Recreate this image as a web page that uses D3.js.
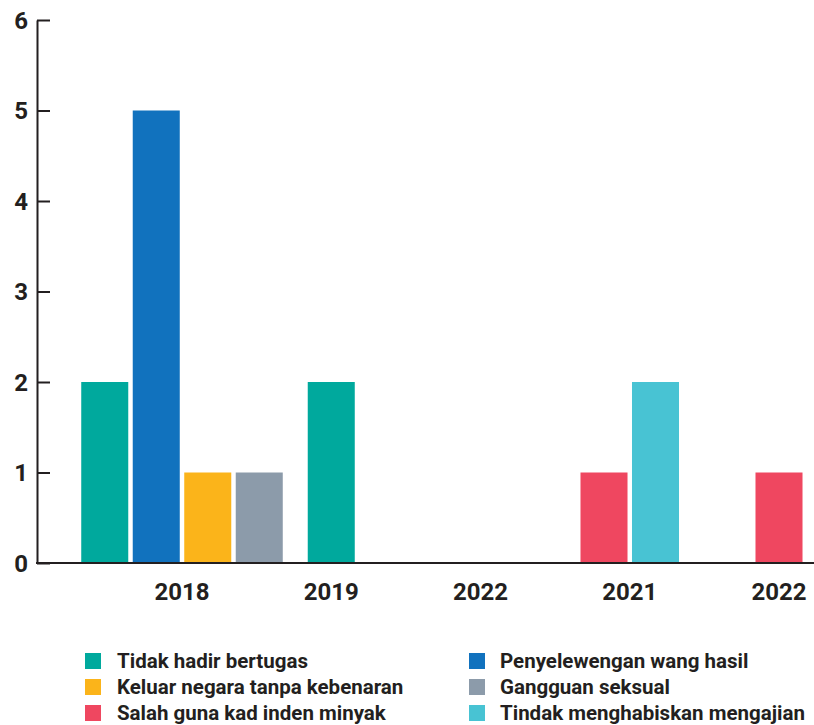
<!DOCTYPE html>
<html>
<head>
<meta charset="utf-8">
<script src="https://cdn.jsdelivr.net/npm/d3@7"></script>
<style>
  body { margin: 0; background: #fff; }
  svg text { font-family: Roboto, "Open Sans", sans-serif; font-weight: 700; fill: #231f20; }
</style>
</head>
<body>
<div id="chart"></div>
<script>
// categories on the x axis (the source really repeats 2022)
const categories = ['2018', '2019', '2022', '2021', '2022'];

const seriesNames = [
    'Tidak hadir bertugas',
    'Penyelewengan wang hasil',
    'Keluar negara tanpa kebenaran',
    'Gangguan seksual',
    'Salah guna kad inden minyak',
    'Tindak menghabiskan mengajian'
];
const seriesColors = ['#00a99d', '#1172be', '#fbb41a', '#8c9baa', '#ef4760', '#48c3d3'];

// values per series, one per category
const tidakHadir    = [2, 2, 0, 0, 0];
const penyelewengan = [5, 0, 0, 0, 0];
const keluarNegara  = [1, 0, 0, 0, 0];
const gangguan      = [1, 0, 0, 0, 0];
const salahGuna     = [0, 0, 0, 1, 1];
const tindak        = [0, 0, 0, 2, 0];
const seriesValues = [tidakHadir, penyelewengan, keluarNegara, gangguan, salahGuna, tindak];

const yTicks = [0, 1, 2, 3, 4, 5, 6];

const W = 814, H = 725;
const axisX = 37, yTop = 20, yBase = 563;
const pitch = 51.5;   // one bar + the gap after it

let svg = d3.select('#chart').append('svg')
    .attr('width', W)
    .attr('height', H);

let y = d3.scaleLinear()
    .domain([0, 6])
    .range([yBase, yTop]);

let x = d3.scalePoint()
    .domain(d3.range(categories.length))
    .range([182, 779]);

// bars: only the non-zero series of a year get a slot, centered on the year
categories.forEach((cat, i) => {
    let bars = seriesValues
        .map((vals, s) => ({ s: s, value: vals[i] }))
        .filter(d => d.value > 0);
    if (!bars.length) return;
    let n = bars.length;
    let inner = d3.scaleBand()
        .domain(d3.range(n))
        .range([x(i) - n * pitch / 2, x(i) + n * pitch / 2])
        .paddingInner(0.087)
        .paddingOuter(0.0435);
    svg.append('g').selectAll('rect')
        .data(bars)
        .join('rect')
        .attr('x', (d, j) => inner(j))
        .attr('y', d => y(d.value))
        .attr('width', inner.bandwidth())
        .attr('height', d => y(0) - y(d.value))
        .attr('fill', d => seriesColors[d.s]);
});

// y axis
let yAxis = d3.axisRight(y)
    .tickValues(yTicks)
    .tickFormat(d3.format('d'))
    .tickSize(13)
    .tickSizeOuter(0);
svg.append('g')
    .attr('transform', `translate(${axisX},0)`)
    .call(yAxis)
    .call(g => g.select('.domain').attr('stroke', '#231f20').attr('stroke-width', 2))
    .call(g => g.selectAll('.tick line').attr('stroke', '#231f20').attr('stroke-width', 2))
    .call(g => g.selectAll('.tick text')
        .attr('x', -9)
        .attr('dy', '0.35em')
        .attr('text-anchor', 'end')
        .attr('fill', null)
        .style('font-size', '24px'));

// baseline across the whole width
svg.append('line')
    .attr('x1', axisX - 1).attr('x2', W)
    .attr('y1', y(0)).attr('y2', y(0))
    .attr('stroke', '#231f20')
    .attr('stroke-width', 2);

// x labels
svg.append('g').selectAll('text')
    .data(categories)
    .join('text')
    .attr('x', (d, i) => x(i))
    .attr('y', 600)
    .attr('text-anchor', 'middle')
    .style('font-size', '24px')
    .text(d => d);

// legend, two columns, filled row by row
let legend = svg.append('g').selectAll('g')
    .data(seriesNames)
    .join('g')
    .attr('transform', (d, i) => `translate(${i % 2 ? 469 : 85},${653 + Math.floor(i / 2) * 26})`);

legend.append('rect')
    .attr('width', 16)
    .attr('height', 16)
    .attr('fill', (d, i) => seriesColors[i]);

legend.append('text')
    .attr('x', (d, i) => i % 2 ? 31 : 32)
    .attr('y', 15)
    .style('font-size', '20.5px')
    .text(d => d);
</script>
</body>
</html>
